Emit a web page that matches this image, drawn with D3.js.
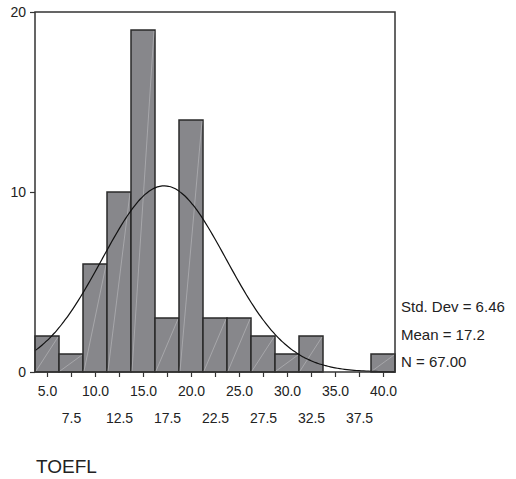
<!DOCTYPE html>
<html>
<head>
<meta charset="utf-8">
<script src="https://cdn.jsdelivr.net/npm/d3@7"></script>
<style>
  body { margin: 0; background: #fff; }
  svg text { font-family: Arial, "Liberation Sans", sans-serif; fill: #222; }
  .axis path { display: none; }
  .axis line { stroke: #333; stroke-width: 1.2; }
</style>
</head>
<body>
<script>
// data
const binCenters = [5.0, 7.5, 10.0, 12.5, 15.0, 17.5, 20.0, 22.5, 25.0, 27.5, 30.0, 32.5, 35.0, 37.5, 40.0];
const counts     = [2,   1,   6,    10,   19,   3,    14,   3,    3,    2,    1,    2,    0,    0,    1];
const yTicks = [0, 10, 20];
const statLines = ["Std. Dev = 6.46", "Mean = 17.2", "N = 67.00"];
const stdDev = 6.46, mean = 17.2, nCases = 67;
const binWidth = 2.5;
const xLabel = "TOEFL";

// sizes
const W = 516, H = 479;
const plot = { left: 35, top: 12, right: 395, bottom: 372 };

const svg = d3.select('body')
    .append('svg')
    .attr('width', W)
    .attr('height', H);

const xScale = d3.scaleLinear()
    .domain([binCenters[0] - binWidth / 2, binCenters[binCenters.length - 1] + binWidth / 2])
    .range([plot.left, plot.right]);

const yScale = d3.scaleLinear()
    .domain([0, 20])
    .range([plot.bottom, plot.top]);

// bars
const bars = svg.append('g')
    .selectAll('g')
    .data(binCenters.map((c, i) => ({ c: c, n: counts[i] })).filter(d => d.n > 0))
    .enter()
    .append('g');

bars.append('rect')
    .attr('x', d => xScale(d.c - binWidth / 2))
    .attr('y', d => yScale(d.n))
    .attr('width', d => xScale(d.c + binWidth / 2) - xScale(d.c - binWidth / 2))
    .attr('height', d => yScale(0) - yScale(d.n))
    .attr('fill', '#87878b')
    .attr('stroke', '#2a2a2a')
    .attr('stroke-width', 1.5);

// faint diagonal line inside each bar
bars.append('line')
    .attr('x1', d => xScale(d.c - binWidth / 2) + 1)
    .attr('y1', yScale(0) - 1)
    .attr('x2', d => xScale(d.c + binWidth / 2) - 1)
    .attr('y2', d => yScale(d.n) + 1)
    .attr('stroke', '#b4b4b8')
    .attr('stroke-width', 0.7);

// fitted normal curve from the stats shown
const curvePts = d3.range(xScale.domain()[0], xScale.domain()[1] + 0.001, 0.25).map(x => {
    const z = (x - mean) / stdDev;
    return [x, nCases * binWidth * Math.exp(-0.5 * z * z) / (stdDev * Math.sqrt(2 * Math.PI))];
});

svg.append('path')
    .datum(curvePts)
    .attr('fill', 'none')
    .attr('stroke', '#111')
    .attr('stroke-width', 1.2)
    .attr('d', d3.line().x(d => xScale(d[0])).y(d => yScale(d[1])).curve(d3.curveBasis));

// frame
svg.append('rect')
    .attr('x', plot.left)
    .attr('y', plot.top)
    .attr('width', plot.right - plot.left)
    .attr('height', plot.bottom - plot.top)
    .attr('fill', 'none')
    .attr('stroke', '#333')
    .attr('stroke-width', 1.5);

// axes
const xAxis = d3.axisBottom(xScale)
    .tickValues(binCenters)
    .tickSize(5)
    .tickPadding(3)
    .tickFormat(d3.format('.1f'));

const gx = svg.append('g')
    .attr('class', 'axis')
    .attr('transform', `translate(0, ${plot.bottom})`)
    .call(xAxis);

gx.selectAll('text')
    .attr('dy', null)
    .attr('y', (d, i) => i % 2 === 0 ? 24 : 51)
    .style('font-size', '14px')
    .style('fill', '#222');

const yAxis = d3.axisLeft(yScale)
    .tickValues(yTicks)
    .tickSize(5)
    .tickPadding(4);

const gy = svg.append('g')
    .attr('class', 'axis')
    .attr('transform', `translate(${plot.left}, 0)`)
    .call(yAxis);

gy.selectAll('text')
    .style('font-size', '14px')
    .style('fill', '#222');

// stats box text
svg.append('g')
    .selectAll('text')
    .data(statLines)
    .enter()
    .append('text')
    .attr('x', 401)
    .attr('y', (d, i) => 312 + i * 27.5)
    .style('font-size', '15px')
    .text(d => d);

// axis title
svg.append('text')
    .attr('x', 36)
    .attr('y', 473)
    .style('font-size', '19px')
    .text(xLabel);
</script>
</body>
</html>
